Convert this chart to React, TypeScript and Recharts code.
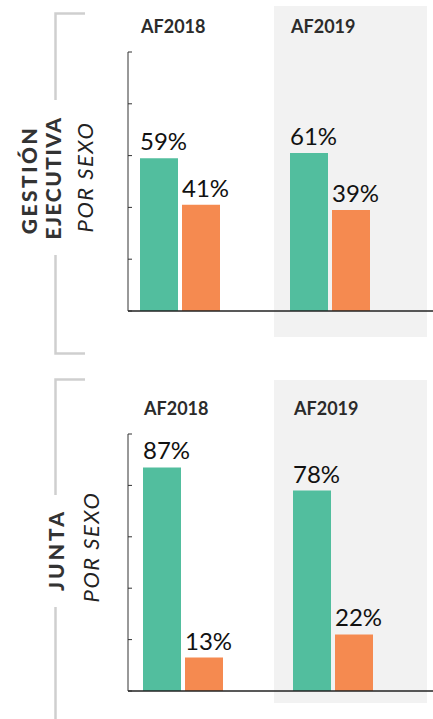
import React from "react";
import { BarChart, Bar, XAxis, YAxis, LabelList } from "recharts";

const years = ["AF2018", "AF2019"];
const gestionVerde = [59, 61];
const gestionNaranja = [41, 39];
const juntaVerde = [87, 78];
const juntaNaranja = [13, 22];
const yTicks = [0, 20, 40, 60, 80, 100];

const VERDE = "#52be9e";
const NARANJA = "#f58a50";
const FONT = "Lato, 'Open Sans', sans-serif";

const gestionData = years.map((year, i) => ({
  year,
  verde: gestionVerde[i],
  naranja: gestionNaranja[i],
}));
const juntaData = years.map((year, i) => ({
  year,
  verde: juntaVerde[i],
  naranja: juntaNaranja[i],
}));

function HeaderTick(props: any) {
  const { x, y, payload } = props;
  return (
    <text x={x - 39} y={y} fontSize={18} fontWeight={700} fill="#2b2b2b" fontFamily={FONT}>
      {payload.value}
    </text>
  );
}

function ValueLabel(props: any) {
  const { x, y, value } = props;
  return (
    <text x={x} y={y - 8} fontSize={24} fontWeight={400} fill="#111" fontFamily={FONT}>
      {value}%
    </text>
  );
}

// keeps the tick lines but draws no tick text
const NoTickText = () => <g />;

interface PanelProps {
  data: { year: string; verde: number; naranja: number }[];
  top: number;
  height: number;
  plotTop: number;
  plotBottom: number;
  padLeft: number;
  padRight: number;
}

function Panel({ data, top, height, plotTop, plotBottom, padLeft, padRight }: PanelProps) {
  const topAxisH = 25;
  const bottomAxisH = 1;
  const padding = { left: padLeft, right: padRight };
  return (
    <div style={{ position: "absolute", left: 0, top, width: 433, height }}>
      <BarChart
        width={433}
        height={height}
        data={data}
        margin={{
          top: plotTop - top - topAxisH,
          right: 0,
          bottom: top + height - plotBottom - bottomAxisH,
          left: 128,
        }}
        barGap={4}
        barSize={38}
      >
        <XAxis
          xAxisId="top"
          orientation="top"
          dataKey="year"
          height={topAxisH}
          axisLine={false}
          tickLine={false}
          tickSize={0}
          tickMargin={19}
          interval={0}
          padding={padding}
          tick={<HeaderTick />}
        />
        <XAxis
          dataKey="year"
          height={bottomAxisH}
          axisLine={{ stroke: "#222", strokeWidth: 1.5 }}
          tickLine={false}
          tick={false}
          padding={padding}
        />
        <YAxis
          mirror
          width={1}
          domain={[0, 100]}
          ticks={yTicks}
          interval={0}
          tick={NoTickText}
          tickSize={4}
          tickLine={{ stroke: "#333" }}
          axisLine={{ stroke: "#333" }}
        />
        <Bar dataKey="verde" fill={VERDE} isAnimationActive={false}>
          <LabelList dataKey="verde" content={<ValueLabel />} />
        </Bar>
        <Bar dataKey="naranja" fill={NARANJA} isAnimationActive={false}>
          <LabelList dataKey="naranja" content={<ValueLabel />} />
        </Bar>
      </BarChart>
    </div>
  );
}

export default function App() {
  const bracket = "#cfcfcf";
  const bold = { fontWeight: 900, fill: "#333", fontFamily: FONT } as const;
  const ital = { fontStyle: "italic", fontWeight: 400, fill: "#222", fontFamily: FONT } as const;
  return (
    <div
      style={{
        position: "absolute",
        left: 0,
        top: 0,
        width: 433,
        height: 719,
        overflow: "hidden",
        background: "#fff",
        fontFamily: FONT,
      }}
    >
      <div style={{ position: "absolute", left: 274, top: 6, width: 153, height: 331, background: "#f2f2f2" }} />
      <div style={{ position: "absolute", left: 274, top: 380, width: 153, height: 323, background: "#f2f2f2" }} />

      <svg width={433} height={719} style={{ position: "absolute", left: 0, top: 0 }}>
        {/* top bracket */}
        <path d="M85 13.5 H55.5 V100 M55.5 255 V353.5 H85" fill="none" stroke={bracket} strokeWidth={2.5} />
        {/* bottom bracket */}
        <path d="M85 379.5 H55.5 V495 M55.5 607 V719" fill="none" stroke={bracket} strokeWidth={2.5} />

        <text transform="translate(37,180) rotate(-90)" textAnchor="middle" fontSize={21} letterSpacing={2.5} {...bold}>
          GESTIÓN
        </text>
        <text transform="translate(61,178) rotate(-90)" textAnchor="middle" fontSize={21} letterSpacing={1.5} {...bold}>
          EJECUTIVA
        </text>
        <text transform="translate(93,177) rotate(-90)" textAnchor="middle" fontSize={22} letterSpacing={1.5} {...ital}>
          POR SEXO
        </text>

        <text transform="translate(64,550) rotate(-90)" textAnchor="middle" fontSize={21} letterSpacing={3} {...bold}>
          JUNTA
        </text>
        <text transform="translate(99,547) rotate(-90)" textAnchor="middle" fontSize={22} letterSpacing={1.5} {...ital}>
          POR SEXO
        </text>
      </svg>

      <Panel data={gestionData} top={0} height={340} plotTop={52} plotBottom={311} padLeft={-23} padRight={28} />
      <Panel data={juntaData} top={360} height={359} plotTop={434} plotBottom={691} padLeft={-20} padRight={25} />
    </div>
  );
}
